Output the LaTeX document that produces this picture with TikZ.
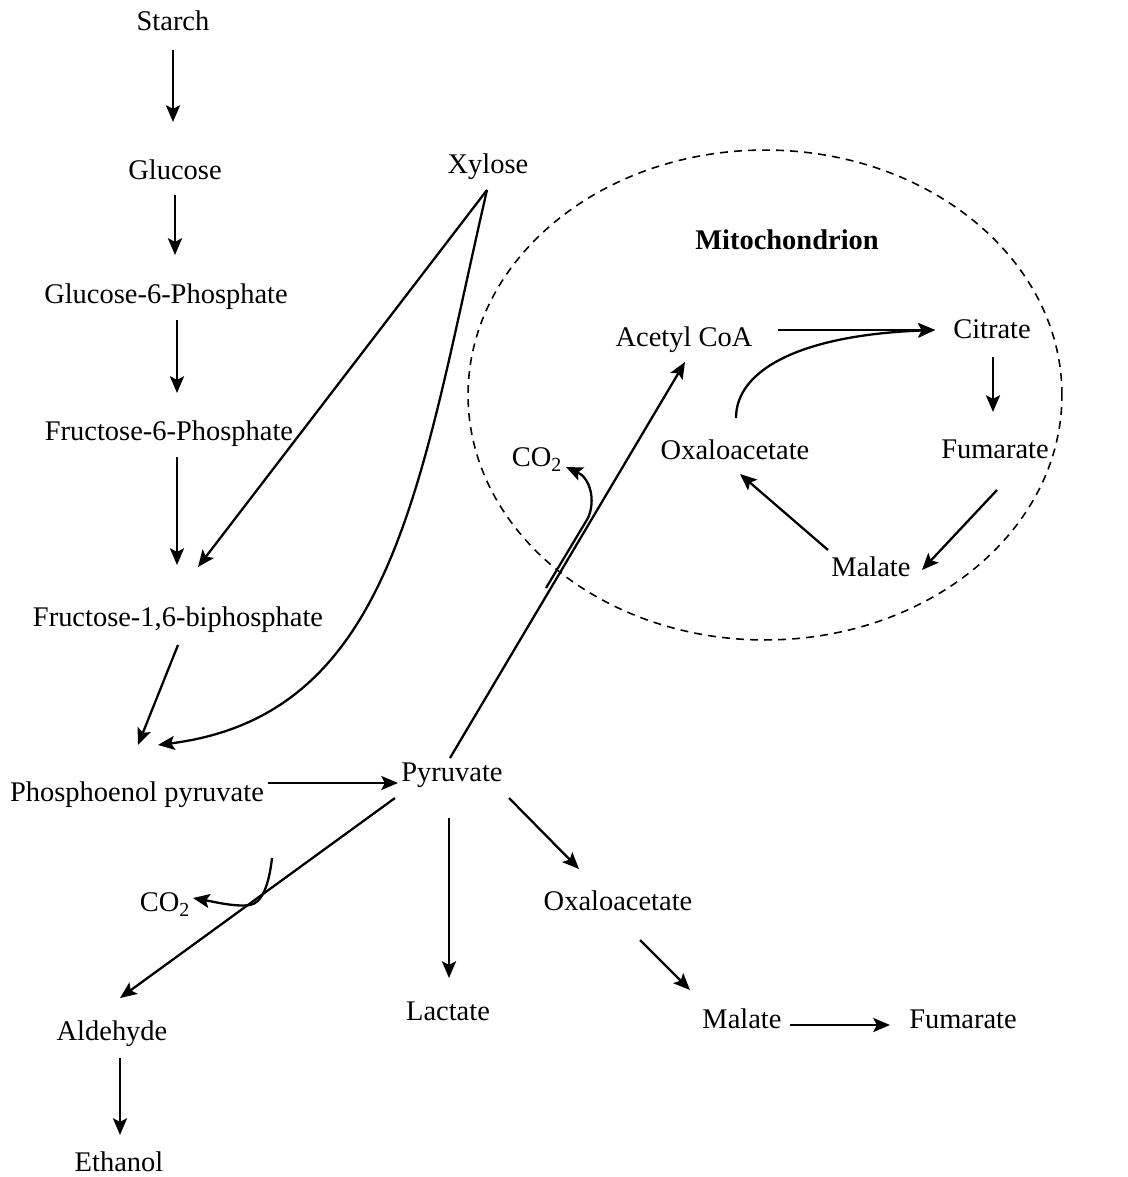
\documentclass[tikz,border=0pt]{standalone}
\usepackage{fontspec}
\setmainfont{Liberation Serif}
\usepackage{tikz}
\usetikzlibrary{arrows.meta,calc,shapes.geometric}

\begin{document}
\begin{tikzpicture}[
    x=0.02cm, y=-0.02cm,
    metabolite/.style={inner sep=0pt, text height=0.9em, text depth=0.22em, font=\fontsize{16.2}{19}\selectfont},
    flow/.style={-{Stealth[length=9.5pt, width=8pt, inset=2pt]}, line width=1.3pt},
    membrane/.style={ellipse, draw, dash pattern=on 4.5pt off 3.5pt, line width=0.9pt, minimum width=11.88cm, minimum height=9.8cm, inner sep=0pt}
]
\useasboundingbox (0,0) rectangle (1127,1177);

% Mitochondrion (dashed outline)
\node[membrane] (mitoWall) at (765,395) {};
\node[metabolite, font=\fontsize{16.2}{19}\selectfont\bfseries] (mito) at (787,244) {Mitochondrion};

% Glycolysis chain
\node[metabolite] (starch) at (173,25) {Starch};
\node[metabolite] (glucose) at (175,174) {Glucose};
\node[metabolite] (g6p) at (166,298) {Glucose-6-Phosphate};
\node[metabolite] (f6p) at (169,435) {Fructose-6-Phosphate};
\node[metabolite] (fbp) at (178,621) {Fructose-1,6-biphosphate};
\node[metabolite] (pep) at (137,796) {Phosphoenol pyruvate};
\node[metabolite] (pyr) at (452,776) {Pyruvate};
\node[metabolite] (xyl) at (488,168) {Xylose};

% Krebs cycle
\node[metabolite] (acoa) at (684,341) {Acetyl CoA};
\node[metabolite] (cit) at (992,333) {Citrate};
\node[metabolite] (oaaM) at (735,454) {Oxaloacetate};
\node[metabolite] (fumM) at (995,453) {Fumarate};
\node[metabolite] (malM) at (871,571) {Malate};
\node[metabolite] (co2a) at (537,461) {CO\textsubscript{2}};

% Fermentation products
\node[metabolite] (co2b) at (165,906) {CO\textsubscript{2}};
\node[metabolite] (lac) at (448,1015) {Lactate};
\node[metabolite] (oaa) at (618,905) {Oxaloacetate};
\node[metabolite] (mal) at (742,1023) {Malate};
\node[metabolite] (fum) at (963,1023) {Fumarate};
\node[metabolite] (ald) at (112,1035) {Aldehyde};
\node[metabolite] (eth) at (119,1166) {Ethanol};

% Branch points on the lines
\coordinate (branchA) at (546,588);
\coordinate (branchB) at (272,858);

% Arrows down the chain
\draw[flow] ($(starch)+(0,25)$) -- ($(glucose)+(-2,-52)$);
\draw[flow] ($(glucose)+(0,21)$) -- ($(g6p)+(9,-43)$);
\draw[flow] ($(g6p)+(11,22)$) -- ($(f6p)+(8,-42)$);
\draw[flow] ($(f6p)+(8,22)$) -- ($(fbp)+(-1,-56)$);
\draw[flow] ($(fbp)+(0,24)$) -- ($(pep)+(1,-51)$);
\draw[flow] ($(pep)+(131,-13)$) -- ($(pyr)+(-54,7)$);

% Xylose entry
\draw[flow] ($(xyl)+(-1,22)$) -- ($(fbp)+(20,-54)$);
\draw[flow] ($(xyl)+(-1,22)$) .. controls (420,480) and (395,715) .. ($(pep)+(21,-51)$);

% Pyruvate branches
\draw[flow] ($(pyr)+(-2,-18)$) -- ($(acoa)+(1,21)$);
\draw[flow] (branchA) -- (588,518) .. controls (596,500) and (590,478) .. ($(co2a)+(29,6)$);
\draw[flow] ($(pyr)+(-3,42)$) -- ($(lac)+(1,-37)$);
\draw[flow] ($(pyr)+(57,22)$) -- ($(oaa)+(-39,-36)$);
\draw[flow] ($(oaa)+(22,35)$) -- ($(mal)+(-52,-33)$);
\draw[flow] ($(mal)+(48,2)$) -- ($(fum)+(-73,2)$);
\draw[flow] ($(pyr)+(-57,22)$) -- ($(ald)+(8,-37)$);
\draw[flow] (branchB) .. controls (269,885) and (262,903) .. (250,905) .. controls (235,907) and (215,902) .. ($(co2b)+(28,-8)$);
\draw[flow] ($(ald)+(8,23)$) -- ($(eth)+(1,-31)$);

% Cycle inside the mitochondrion
\draw[flow] ($(acoa)+(94,-11)$) -- ($(cit)+(-57,-3)$);
\draw[flow] ($(oaaM)+(1,-36)$) .. controls (736,370) and (800,335) .. ($(cit)+(-57,-3)$);
\draw[flow] ($(cit)+(1,24)$) -- ($(fumM)+(-2,-41)$);
\draw[flow] ($(fumM)+(2,37)$) -- ($(malM)+(51,-1)$);
\draw[flow] ($(malM)+(-43,-21)$) -- ($(oaaM)+(5,20)$);

\end{tikzpicture}
\end{document}
